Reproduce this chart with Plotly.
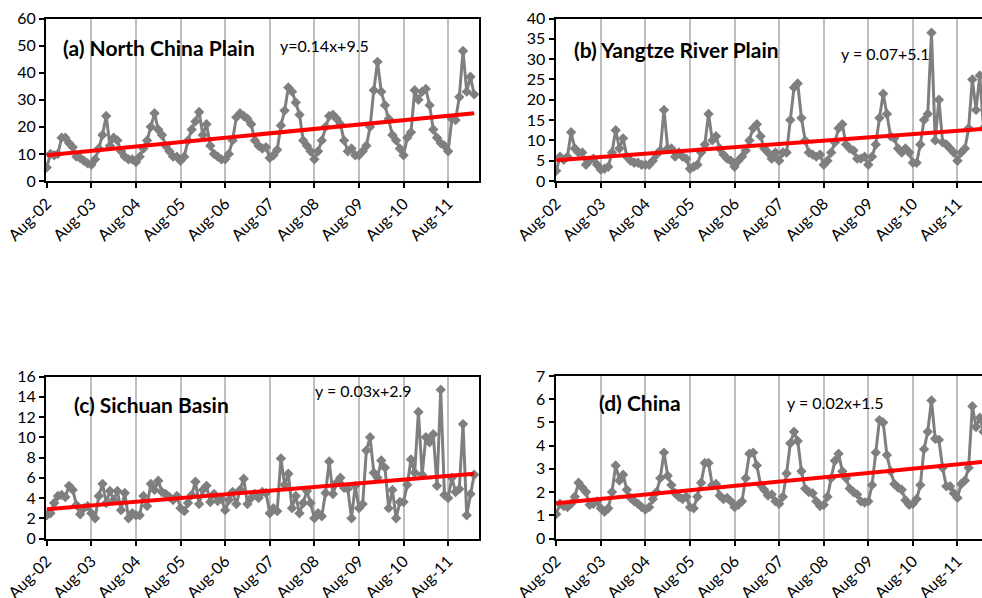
import plotly.graph_objects as go

# Monthly series, Aug-2002 .. Mar-2012 (index 0 = Aug-02)
north_china_plain = [
    5, 10, 9.5, 10, 16, 16, 14, 12.5, 9, 8.5, 7.5, 6.5,
    6, 8, 12, 17, 24, 13, 16, 15, 11, 9, 8, 8,
    7, 9, 12, 15, 20, 25, 19, 17, 13, 11, 9, 9,
    7.5, 9, 15, 19, 22, 25.5, 17, 21, 13, 10, 9, 8,
    8, 10, 15, 23.5, 25, 24, 23, 21, 15, 13, 12, 12.5,
    8.5, 9.5, 11.5, 20.5, 26, 34.5, 33, 29, 24.5, 15, 13, 11,
    8, 11, 15, 20, 24, 24.5, 23, 21, 15, 11, 12, 9.5,
    9.5, 11, 13, 20, 33.5, 44, 33, 28, 23, 17, 15, 12,
    9.5, 16, 18, 33.5, 30, 33, 34, 28, 19, 16, 14, 13,
    11, 23, 22.5, 31, 48, 33, 38.5, 32,
]
yangtze_river_plain = [
    2.5, 6, 5.2, 6, 12, 8, 7, 7, 4, 5, 5.5, 4,
    2.8, 3, 3.5, 7, 12.5, 8, 10.5, 6, 5, 4.5, 4.5, 4,
    4, 4, 5, 6.5, 7.5, 17.5, 8, 8, 6, 7, 6, 5.5,
    3, 3.5, 4, 7, 9, 16.5, 10, 11, 8, 6.5, 5.5, 5,
    3.5, 5, 6, 7.5, 10, 13, 14, 11, 8, 7, 5.5, 7,
    5, 7, 7, 15, 23, 24, 15.5, 10, 7, 6.5, 6, 6.5,
    4, 5, 7, 9.5, 13, 14, 9, 8, 7.5, 5.5, 5.5, 6,
    4, 6, 9, 15.5, 21.5, 16.5, 11, 10.5, 8, 7, 8, 7,
    4.5, 4.5, 9, 15, 16.5, 36.5, 10, 20, 9.5, 9, 8, 7,
    5, 7, 8, 13, 25, 17.5, 26, 13,
]
sichuan_basin = [
    2.3, 2.5, 3.5, 4.2, 4.3, 4.1, 5.2, 4.8, 3.3, 2.4, 3.0, 3.2,
    2.5, 2.0, 4.2, 5.4, 3.5, 4.7, 3.8, 4.7, 2.8, 4.5, 2.0, 2.5,
    2.3, 2.3, 4.2, 3.2, 5.4, 4.8, 5.7, 4.6, 4.4, 4.1, 3.8, 4.2,
    3.0, 2.7, 3.5, 4.3, 5.6, 3.4, 4.8, 5.2, 3.6, 4.4, 3.7, 3.9,
    2.8, 3.8, 4.6, 3.4, 4.8, 5.9, 3.4, 4.0, 4.4, 4.0, 4.6, 4.5,
    2.5, 3.0, 2.7, 7.9, 5.3, 6.4, 3.0, 4.2, 2.5, 3.5, 4.7, 3.5,
    2.0, 2.5, 2.2, 4.5, 7.6, 4.4, 5.5, 6.0, 5.0, 4.9, 2.0, 5.2,
    3.0, 3.4, 8.7, 10.0, 6.5, 6.0, 7.7, 7.0, 3.0, 4.8, 2.0, 3.6,
    3.6, 5.3, 7.8, 6.5, 12.5, 6.3, 10.0, 9.5, 10.3, 5.2, 14.7, 4.3,
    4.0, 6.0, 4.6, 4.9, 11.3, 2.3, 4.4, 6.3,
]
china = [
    1.05, 1.5, 1.4, 1.35, 1.5, 1.8, 2.4, 2.2, 2.0, 1.45, 1.5, 1.6,
    1.3, 1.15, 1.3, 2.0, 3.15, 2.5, 2.75, 2.1, 1.75, 1.6, 1.5, 1.35,
    1.25, 1.35, 1.7, 2.0, 2.6, 3.7, 2.7, 2.3, 1.95, 1.8, 1.7, 1.8,
    1.35, 1.3, 1.8, 2.4, 3.25, 3.25, 2.3, 2.35, 1.85, 1.7, 1.75, 1.6,
    1.35, 1.45, 1.6, 2.6, 3.65, 3.7, 3.15, 2.3, 2.1, 1.85, 1.9, 1.6,
    1.5, 1.8, 2.8, 4.1, 4.6, 4.2, 2.9, 2.15, 2.0, 1.95, 1.6, 1.4,
    1.45, 1.8, 2.6, 3.35, 3.65, 2.9, 2.6, 2.15, 2.0, 1.9, 1.6, 1.55,
    1.6, 2.3, 3.7, 5.1, 5.0, 3.6, 2.9, 2.35, 2.2, 2.1, 1.65, 1.45,
    1.5, 1.7, 2.3, 3.85, 4.6, 5.95, 4.3, 4.25, 3.05, 2.25, 2.25, 1.95,
    1.75, 2.35, 2.5, 3.05, 5.7, 4.8, 5.2, 4.6,
]

panel_titles = ["(a) North China Plain", "(b) Yangtze River Plain",
                "(c) Sichuan Basin", "(d) China"]
equation_labels = ["y=0.14x+9.5", "y = 0.07+5.1", "y = 0.03x+2.9", "y = 0.02x+1.5"]
trend_slopes = [0.135, 0.067, 0.0303, 0.0155]
trend_intercepts = [9.5, 5.1, 2.9, 1.52]
y_max = [60, 40, 16, 7]
y_step = [10, 5, 2, 1]
tick_months = list(range(0, 109, 12))
tick_labels = ["Aug-02", "Aug-03", "Aug-04", "Aug-05", "Aug-06",
               "Aug-07", "Aug-08", "Aug-09", "Aug-10", "Aug-11"]

series = [north_china_plain, yangtze_river_plain, sichuan_basin, china]

W, H = 982, 598
GRAY = "#7F7F7F"
FONT = "Lato, 'Open Sans', sans-serif"

# plot-area boxes in pixels: (left, right, top, bottom)
boxes = [(46, 479, 18.5, 181), (555.5, 982, 18.5, 181),
         (46, 479, 376.5, 538.5), (555.5, 982, 376, 538.5)]
x_ranges = [[-0.2, 116.3], [-0.2, 114.6], [-0.2, 116.3], [-0.2, 114.6]]
title_pos = [(61, 48), (572, 50), (72, 404), (597, 402)]
eq_pos = [(278, 45), (839, 54), (313, 390), (785, 402)]

fig = go.Figure()
layout = {}
annotations = []
for i, vals in enumerate(series):
    n = i + 1
    xa = "x" if n == 1 else f"x{n}"
    ya = "y" if n == 1 else f"y{n}"
    months = list(range(len(vals)))
    fig.add_trace(go.Scatter(
        x=months, y=vals, xaxis=xa, yaxis=ya, mode="lines+markers",
        line=dict(color=GRAY, width=3),
        marker=dict(symbol="diamond", size=8, color=GRAY),
        showlegend=False, hoverinfo="skip"))
    tx = [0, len(vals) - 1]
    ty = [trend_intercepts[i] + trend_slopes[i] * t for t in tx]
    fig.add_trace(go.Scatter(
        x=tx, y=ty, xaxis=xa, yaxis=ya, mode="lines",
        line=dict(color="#FF0000", width=4),
        showlegend=False, hoverinfo="skip"))

    left, right, top, bottom = boxes[i]
    right_cut = right >= W
    layout["xaxis" if n == 1 else f"xaxis{n}"] = dict(
        domain=[left / W, right / W], anchor=ya, range=x_ranges[i],
        automargin=False,
        tickmode="array", tickvals=tick_months, ticktext=tick_labels,
        tickangle=-45, ticks="outside", ticklen=5, tickwidth=2,
        tickcolor="black", showline=True, linecolor="black", linewidth=2,
        mirror=True, showgrid=True, gridcolor="#BFBFBF", gridwidth=1.5,
        zeroline=False, tickfont=dict(family=FONT, size=16, color="black"))
    layout["yaxis" if n == 1 else f"yaxis{n}"] = dict(
        domain=[1 - bottom / H, 1 - top / H], anchor=xa,
        range=[0, y_max[i]], tickmode="linear", tick0=0, dtick=y_step[i],
        automargin=False,
        ticks="outside", ticklen=5, tickwidth=2, tickcolor="black",
        showline=True, linecolor="black", linewidth=2,
        mirror=not right_cut, showgrid=False, zeroline=False,
        tickfont=dict(family=FONT, size=16, color="black"))

    px, py = title_pos[i]
    annotations.append(dict(
        text=f"<b>{panel_titles[i]}</b>", xref="paper", yref="paper",
        x=px / W, y=1 - py / H, xanchor="left", yanchor="middle",
        showarrow=False, font=dict(family=FONT, size=21, color="black")))
    ex, ey = eq_pos[i]
    annotations.append(dict(
        text=equation_labels[i], xref="paper", yref="paper",
        x=ex / W, y=1 - ey / H, xanchor="left", yanchor="middle",
        showarrow=False, font=dict(family=FONT, size=16, color="black")))

fig.update_layout(
    width=W, height=H, margin=dict(l=0, r=0, t=0, b=0),
    paper_bgcolor="white", plot_bgcolor="white",
    annotations=annotations, **layout)

fig.write_html("out.html")
